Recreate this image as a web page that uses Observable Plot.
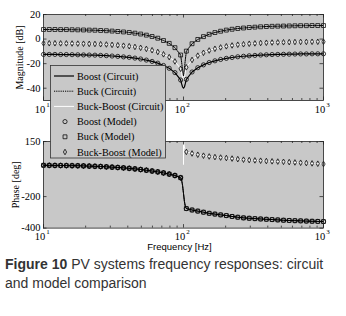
<!DOCTYPE html>
<html><head><meta charset="utf-8">
<script src="https://cdn.jsdelivr.net/npm/d3@7"></script>
<script src="https://cdn.jsdelivr.net/npm/@observablehq/plot@0.6"></script>
<style>
html,body{margin:0;padding:0;background:#fff;}
#wrap{position:relative;width:346px;height:316px;overflow:hidden;}
#top,#bot{position:absolute;left:0;}
#top{top:0}
#bot{top:120px}
#legend{position:absolute;left:0;top:0;pointer-events:none;}
#caption{position:absolute;left:5px;top:255px;font-family:"Liberation Sans",Arial,sans-serif;font-size:14px;line-height:19px;color:#333;width:345px;white-space:nowrap;}
</style></head><body>
<div id="wrap"><div id="top"></div><div id="bot"></div><svg id="legend" width="346" height="316"></svg>
<div id="caption"><b>Figure 10</b> PV systems frequency responses: circuit<br>and model comparison</div></div>
<script>
// Model sample frequencies (Hz)
const freq = [10, 10.99, 12.07, 13.26, 14.56, 16.00, 17.58, 19.31, 21.21, 23.30,
  25.60, 28.12, 30.89, 33.93, 37.28, 40.95, 44.99, 49.42, 54.29, 59.64,
  65.51, 71.97, 79.06, 86.85, 95.41, 104.8, 115.1, 126.5, 138.9, 152.6,
  167.7, 184.2, 202.3, 222.3, 244.2, 268.3, 294.7, 323.7, 355.6, 390.7,
  429.2, 471.5, 517.9, 569.0, 625.1, 686.6, 754.3, 828.6, 910.3, 1000];
// Magnitude [dB]
const boostMag = [-12.5, -12.5, -12.5, -12.6, -12.6, -12.7, -12.8, -12.9, -13.0, -13.1,
  -13.3, -13.5, -13.8, -14.1, -14.5, -14.9, -15.5, -16.2, -17.1, -18.2,
  -19.6, -21.5, -23.8, -27.3, -33.3, -32.8, -26.8, -23.3, -21.0, -19.1,
  -17.7, -16.6, -15.7, -15.0, -14.4, -14.0, -13.6, -13.3, -13.0, -12.8,
  -12.6, -12.5, -12.4, -12.3, -12.2, -12.1, -12.1, -12.0, -12.0, -12.0];
const buckMag = [7.8, 7.8, 7.8, 7.7, 7.7, 7.6, 7.5, 7.4, 7.3, 7.2,
  7.0, 6.8, 6.5, 6.2, 5.8, 5.4, 4.8, 4.1, 3.2, 2.1,
  0.7, -1.2, -3.5, -7.0, -13.0, -9.8, -3.8, -0.3, 2.0, 3.9,
  5.3, 6.4, 7.3, 8.0, 8.6, 9.0, 9.4, 9.7, 10.0, 10.2,
  10.4, 10.5, 10.6, 10.7, 10.8, 10.9, 10.9, 11.0, 11.0, 11.0];
const bbMag = [-3.4, -3.4, -3.4, -3.5, -3.5, -3.6, -3.7, -3.8, -3.9, -4.0,
  -4.2, -4.4, -4.7, -5.0, -5.4, -5.8, -6.4, -7.1, -8.0, -9.1,
  -10.5, -12.4, -14.7, -18.2, -24.2, -23.0, -17.0, -13.5, -11.2, -9.3,
  -7.9, -6.8, -5.9, -5.2, -4.6, -4.2, -3.8, -3.5, -3.2, -3.0,
  -2.8, -2.7, -2.6, -2.5, -2.4, -2.3, -2.3, -2.2, -2.2, -2.2];
// Phase [deg]
const boostBuckPhase = [-1, -1.5, -2, -2.5, -3, -3.5, -4, -5, -6.3, -7.5,
  -9, -11, -13, -15, -17.5, -20.5, -24, -28, -32.5, -37.5,
  -43, -49.5, -57, -66, -80, -276, -285, -292, -299, -306,
  -311, -316, -320.5, -326, -331, -335, -337.5, -340, -342, -344,
  -346, -348, -350, -351.5, -353, -354, -355.5, -356.5, -357.5, -358.5];
const bbPhase = [-1, -1.5, -2, -2.5, -3, -3.5, -4, -5, -6.3, -7.5,
  -9, -11, -13, -15, -17.5, -20.5, -24, -28, -32.5, -37.5,
  -43, -49.5, -57, -66, -80, 84, 74, 66, 60, 55,
  51, 48, 45, 41.5, 38, 34.5, 32, 30, 28, 26,
  24, 22.5, 21, 19, 17, 15, 13, 11, 9, 7];
// Extra circuit points through the notch
const notchFreq = [97.0, 98.5, 100, 101.5, 103.0];
const boostNotchMag = [-36.5, -39.0, -40.0, -39.0, -36.3];
const buckNotchMag = [-19.0, -25.0, -30.0, -24.0, -17.0];
const bbNotchMag = [-28.0, -31.5, -33.0, -31.0, -27.0];
const notchPhase = [-95, -130, -180, -230, -262];
const bbNotchFreq = [97.0, 98.5, 99.5, 100, 100, 101.5, 103.0];
const bbNotchPhase = [-95, -130, null, 5, 150, 115, 95];
// Axes ticks
const xMajor = [10, 100, 1000];
const xExp = ["1", "2", "3"];
const xMinor = [20, 30, 40, 50, 60, 70, 80, 90, 200, 300, 400, 500, 600, 700, 800, 900];
const magTicks = [20, 0, -20, -40];
const phaseTicks = [150, -200, -400];
const legendLabels = ["Boost (Circuit)", "Buck (Circuit)", "Buck-Boost (Circuit)", "Boost (Model)", "Buck (Model)", "Buck-Boost (Model)"];

const BG = "#c8c8c8";
const serif = "'Liberation Serif', 'Times New Roman', serif";

function pts(vals) { return freq.map((f, i) => ({f, v: vals[i]})); }
function lineData(vals, nf, nv) {
  const lo = nf[0], hi = nf[nf.length - 1];
  const all = pts(vals);
  return [...all.filter(d => d.f < lo), ...nf.map((f, i) => ({f, v: nv[i]})), ...all.filter(d => d.f > hi)];
}

function panel({height, mt, mb, ydom, yticks, ylabel, ylabelDx, series, xlabel}) {
  const W = 280, H = height - mt - mb;
  const marks = [
    Plot.frame({fill: BG, stroke: "none"}),
    ...series.lines,
    ...series.dots,
    Plot.tickX(xMajor, {x: d => d, insetTop: H - 3.5, stroke: "#111", strokeWidth: 0.7}),
    Plot.tickX(xMajor, {x: d => d, insetBottom: H - 3.5, stroke: "#111", strokeWidth: 0.7}),
    Plot.tickX(xMinor, {x: d => d, insetTop: H - 2, stroke: "#111", strokeWidth: 0.7}),
    Plot.tickX(xMinor, {x: d => d, insetBottom: H - 2, stroke: "#111", strokeWidth: 0.7}),
    Plot.tickY(yticks, {y: d => d, insetRight: W - 3.5, stroke: "#111", strokeWidth: 0.7}),
    Plot.tickY(yticks, {y: d => d, insetLeft: W - 3.5, stroke: "#111", strokeWidth: 0.7}),
    Plot.frame({stroke: "#222", strokeWidth: 0.8}),
    Plot.text(yticks, {y: d => d, frameAnchor: "left", text: d => String(d), textAnchor: "end", dx: -3, fontSize: 10.5, fill: "#000"}),
    Plot.text(xMajor, {x: d => d, frameAnchor: "bottom", text: () => "10", textAnchor: "middle", dx: -3.5, dy: 12, fontSize: 10.5, fill: "#000"}),
    Plot.text(xMajor, {x: d => d, frameAnchor: "bottom", text: (d, i) => xExp[i], textAnchor: "middle", dx: 4.5, dy: 6, fontSize: 7, fill: "#000"}),
    Plot.text([ylabel], {frameAnchor: "left", text: d => d, textAnchor: "middle", rotate: -90, dx: ylabelDx, fontSize: 10, fill: "#000"})
  ];
  if (xlabel) marks.push(Plot.text([xlabel], {frameAnchor: "bottom", text: d => d, textAnchor: "middle", dx: -4, dy: 22, fontSize: 9.5, fontFamily: "'Liberation Sans', Arial, sans-serif", fill: "#000"}));
  return Plot.plot({
    width: 346, height, marginLeft: 43, marginRight: 23, marginTop: mt, marginBottom: mb,
    x: {type: "log", domain: [10, 1000], axis: null},
    y: {domain: ydom, axis: null},
    style: {fontFamily: serif, background: "transparent", overflow: "visible"},
    marks
  });
}

function dots(vals) {
  return [
    Plot.dot(pts(vals[0]), {x: "f", y: "v", symbol: "circle", r: 2.1, fill: "none", stroke: "#000", strokeWidth: 0.75}),
    Plot.dot(pts(vals[1]), {x: "f", y: "v", symbol: "square", r: 2.2, fill: "none", stroke: "#000", strokeWidth: 0.75}),
    Plot.dot(pts(vals[2]), {x: "f", y: "v", symbol: "diamond", r: 1.7, fill: "none", stroke: "#000", strokeWidth: 0.75})
  ];
}

const topPlot = panel({
  height: 120, mt: 14, mb: 20, ydom: [-50, 20], yticks: magTicks, ylabel: "Magnitude [dB]", ylabelDx: -24,
  series: {
    lines: [
      Plot.line(lineData(bbMag, notchFreq, bbNotchMag), {x: "f", y: "v", stroke: "#fff", strokeWidth: 1}),
      Plot.line(lineData(buckMag, notchFreq, buckNotchMag), {x: "f", y: "v", stroke: "#000", strokeWidth: 1, strokeDasharray: "1.2,1"}),
      Plot.line(lineData(boostMag, notchFreq, boostNotchMag), {x: "f", y: "v", stroke: "#000", strokeWidth: 1.2})
    ],
    dots: dots([boostMag, buckMag, bbMag])
  }
});
document.getElementById("top").appendChild(topPlot);

const botPlot = panel({
  height: 140, mt: 21, mb: 32.4, ydom: [-400, 150], yticks: phaseTicks, ylabel: "Phase [deg]", ylabelDx: -28,
  xlabel: "Frequency [Hz]",
  series: {
    lines: [
      Plot.line(lineData(bbPhase, bbNotchFreq, bbNotchPhase), {x: "f", y: "v", stroke: "#fff", strokeWidth: 1}),
      Plot.line(lineData(boostBuckPhase, notchFreq, notchPhase), {x: "f", y: "v", stroke: "#000", strokeWidth: 1, strokeDasharray: "1.2,1"}),
      Plot.line(lineData(boostBuckPhase, notchFreq, notchPhase), {x: "f", y: "v", stroke: "#000", strokeWidth: 1})
    ],
    dots: dots([boostBuckPhase, boostBuckPhase, bbPhase])
  }
});
document.getElementById("bot").appendChild(botPlot);

// Legend
const lg = d3.select("#legend");
lg.append("rect").attr("x", 50.5).attr("y", 65.5).attr("width", 115).attr("height", 92.5)
  .attr("fill", BG).attr("stroke", "#333").attr("stroke-width", 0.8);
const rowY = i => 76 + 15.2 * i;
const lineStyles = [
  {stroke: "#000", w: 1.2, dash: null},
  {stroke: "#000", w: 1, dash: "1.2,1"},
  {stroke: "#fff", w: 1, dash: null}
];
lineStyles.forEach((s, i) => {
  lg.append("line").attr("x1", 54).attr("x2", 74).attr("y1", rowY(i)).attr("y2", rowY(i))
    .attr("stroke", s.stroke).attr("stroke-width", s.w).attr("stroke-dasharray", s.dash);
});
const syms = [d3.symbolCircle, d3.symbolSquare, d3.symbolDiamond];
const rs = [2.1, 2.2, 1.7];
syms.forEach((sy, i) => {
  lg.append("path").attr("d", d3.symbol(sy, rs[i] * rs[i] * Math.PI)())
    .attr("transform", `translate(65,${rowY(i + 3)})`)
    .attr("fill", "none").attr("stroke", "#000").attr("stroke-width", 0.75);
});
legendLabels.forEach((t, i) => {
  lg.append("text").attr("x", 77).attr("y", rowY(i)).attr("dy", "0.35em")
    .attr("font-family", serif).attr("font-size", 10.2).attr("fill", "#000").text(t);
});
</script>
</body></html>
